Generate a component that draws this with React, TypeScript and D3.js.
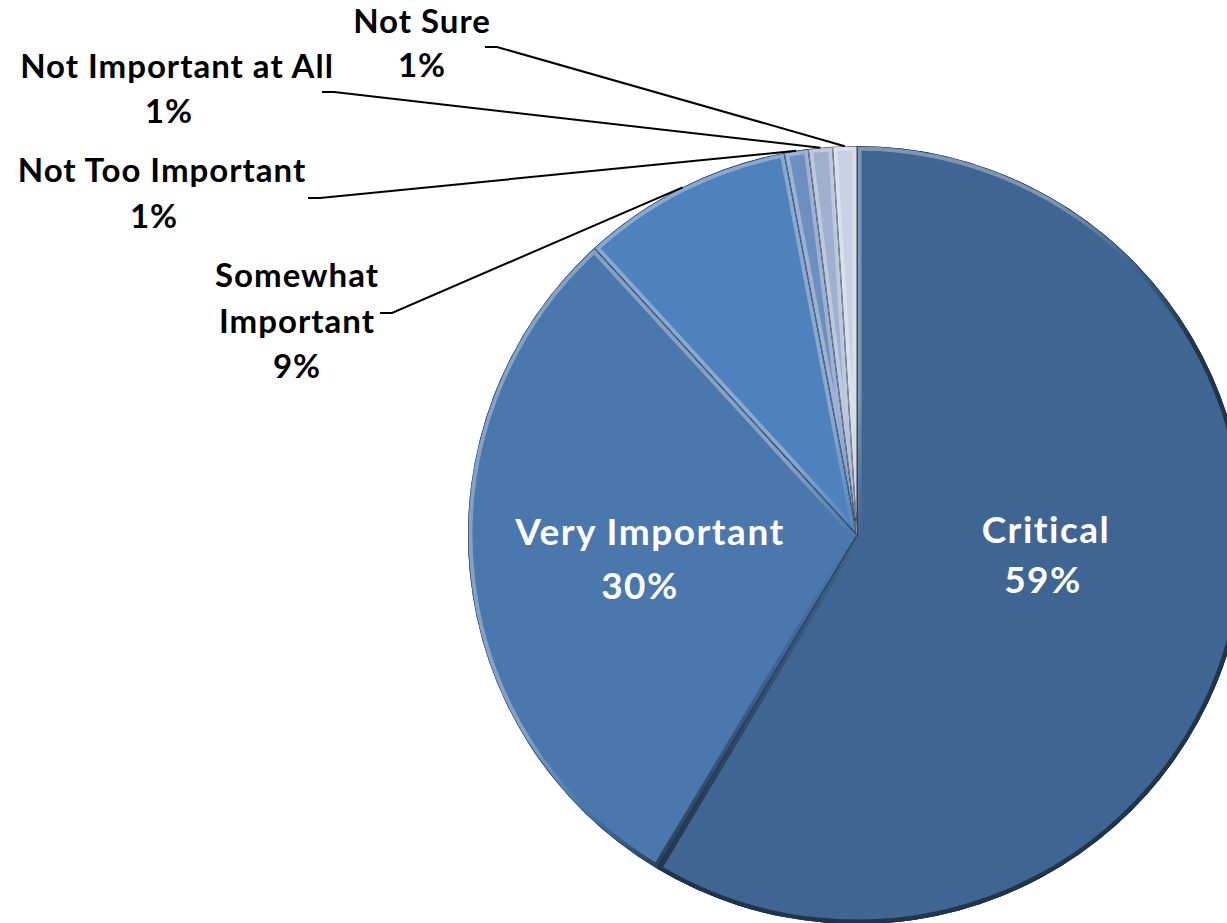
import React, { useEffect, useRef } from 'react';
import * as d3 from 'd3';

const categories = ['Critical', 'Very Important', 'Somewhat Important', 'Not Too Important', 'Not Important at All', 'Not Sure'];
const values = [58.6, 29.6, 8.8, 1.0, 1.0, 1.0];
const percentLabels = ['59%', '30%', '9%', '1%', '1%', '1%'];
const sliceColors = ['#3f6592', '#4a77ac', '#4f81bd', '#6e8ec0', '#9fb1cf', '#c8d2e4'];

// layout only (positions of data labels)
const labelLayout = [
  { inside: true, cx: 1046, pctDx: -3, y0: 543, dy: 50, split: false },
  { inside: true, cx: 650, pctDx: -10, y0: 545, dy: 54, split: false },
  { inside: false, cx: 297, pctDx: 0, y0: 287, dy: 45.5, split: true, lx: 380, ly: 313 },
  { inside: false, cx: 162, pctDx: -8, y0: 182, dy: 46, split: false, lx: 308, ly: 198 },
  { inside: false, cx: 177, pctDx: -8, y0: 78, dy: 45, split: false, lx: 322, ly: 92 },
  { inside: false, cx: 422, pctDx: 0, y0: 33, dy: 44, split: false, lx: 485, ly: 47 },
];

const W = 1227;
const H = 923;
const CX = 857;
const CY = 535;
const R = 389;
const FONT = 'Lato, "Open Sans", sans-serif';

export default function App() {
  const ref = useRef<SVGSVGElement | null>(null);

  useEffect(() => {
    document.body.style.margin = '0';
    const svg = d3.select(ref.current);
    svg.selectAll('*').remove();

    const data = categories.map((c, i) => ({ name: c, value: values[i], pct: percentLabels[i], color: sliceColors[i], lay: labelLayout[i] }));
    const pie = d3.pie<any>().sort(null).value((d: any) => d.value).startAngle(0).endAngle(2 * Math.PI);
    const arcs = pie(data);
    const arc = d3.arc<any>().innerRadius(0).outerRadius(R);

    const defs = svg.append('defs');
    const g = svg.append('g').attr('transform', `translate(${CX},${CY})`);

    arcs.forEach((a, i) => {
      const base = d3.color(a.data.color)!;
      const light = d3.interpolateRgb(a.data.color, '#ffffff')(0.4);
      const dark = d3.interpolateRgb(a.data.color, '#000000')(0.6);
      const gid = `grad${i}`;
      const lg = defs.append('linearGradient').attr('id', gid)
        .attr('gradientUnits', 'userSpaceOnUse')
        .attr('x1', -R * 0.75).attr('y1', -R * 0.75).attr('x2', R * 0.75).attr('y2', R * 0.75);
      lg.append('stop').attr('offset', '0%').attr('stop-color', light);
      lg.append('stop').attr('offset', '38%').attr('stop-color', light);
      lg.append('stop').attr('offset', '50%').attr('stop-color', base.toString());
      lg.append('stop').attr('offset', '62%').attr('stop-color', dark);
      lg.append('stop').attr('offset', '100%').attr('stop-color', dark);

      const cid = `clip${i}`;
      defs.append('clipPath').attr('id', cid).append('path').attr('d', arc(a) as string);

      g.append('path').attr('d', arc(a) as string).attr('fill', a.data.color);
      g.append('path').attr('d', arc(a) as string)
        .attr('fill', 'none')
        .attr('stroke', `url(#${gid})`)
        .attr('stroke-width', 9)
        .attr('stroke-linejoin', 'round')
        .attr('clip-path', `url(#${cid})`)
        .attr('opacity', 0.8);
      g.append('path').attr('d', arc(a) as string)
        .attr('fill', 'none')
        .attr('stroke', dark)
        .attr('stroke-width', 1.2)
        .attr('clip-path', `url(#${cid})`);
    });

    // labels
    arcs.forEach((a) => {
      const L = a.data.lay;
      const lines: string[] = L.split ? a.data.name.split(' ') : [a.data.name];
      lines.push(a.data.pct);
      const t = svg.append('text')
        .attr('font-family', FONT)
        .attr('font-weight', 700)
        .attr('font-size', L.inside ? 37 : 33)
        .attr('letter-spacing', L.inside ? 1.5 : 1)
        .attr('fill', L.inside ? '#ffffff' : '#000000')
        .attr('text-anchor', 'middle');
      lines.forEach((ln, k) => {
        const isPct = k === lines.length - 1;
        t.append('tspan')
          .attr('x', L.cx + (isPct ? L.pctDx : 0))
          .attr('y', L.y0 + k * L.dy)
          .text(ln);
      });

      if (!L.inside) {
        const mid = (a.startAngle + a.endAngle) / 2;
        const ex = CX + R * Math.sin(mid);
        const ey = CY - R * Math.cos(mid);
        const line = d3.line();
        svg.append('path')
          .attr('d', line([[L.lx, L.ly], [L.lx + 12, L.ly], [ex, ey]]) as string)
          .attr('fill', 'none')
          .attr('stroke', '#000')
          .attr('stroke-width', 2);
      }
    });
  }, []);

  return <svg ref={ref} width={W} height={H} style={{ display: 'block', background: '#fff' }} />;
}
